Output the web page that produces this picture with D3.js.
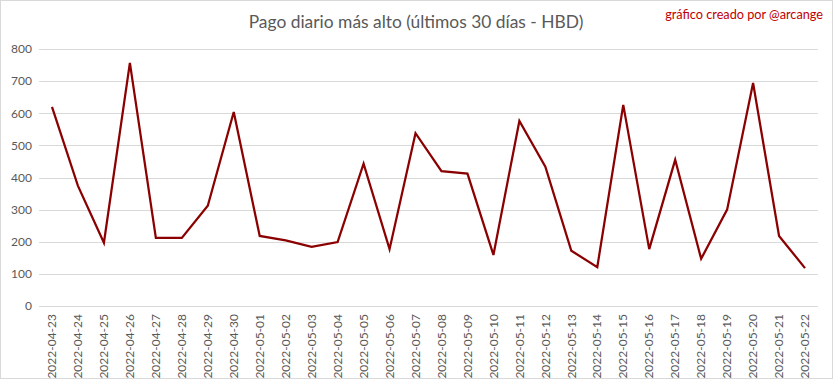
<!DOCTYPE html>
<html><head><meta charset="utf-8">
<script src="https://cdn.jsdelivr.net/npm/d3@7"></script>
<style>html,body{margin:0;padding:0;background:#fff;}</style>
</head><body>
<svg id="c" width="833" height="379"></svg>
<script>
const dates = ["2022-04-23","2022-04-24","2022-04-25","2022-04-26","2022-04-27","2022-04-28","2022-04-29","2022-04-30","2022-05-01","2022-05-02","2022-05-03","2022-05-04","2022-05-05","2022-05-06","2022-05-07","2022-05-08","2022-05-09","2022-05-10","2022-05-11","2022-05-12","2022-05-13","2022-05-14","2022-05-15","2022-05-16","2022-05-17","2022-05-18","2022-05-19","2022-05-20","2022-05-21","2022-05-22"];
const values = [620,374,197,757,212,212,312,604,218,204,184,199,443,177,538,420,412,159,576,434,172,121,626,177,455,147,300,694,218,118];
const yTicks = [0,100,200,300,400,500,600,700,800];
const title = "Pago diario más alto (últimos 30 días - HBD)";
const credit = "gráfico creado por @arcange";

const svg = d3.select("#c");
const font = "Lato, 'Open Sans', sans-serif";
svg.append("rect").attr("x",0.5).attr("y",0.5).attr("width",832).attr("height",378)
  .attr("fill","#fff").attr("stroke","#d9d9d9");

const x = d3.scaleBand().domain(dates).range([39,818]);
const y = d3.scaleLinear().domain([0,800]).range([306,49]);

const grid = svg.append("g");
grid.selectAll("line").data(yTicks).join("line")
  .attr("x1",39).attr("x2",818)
  .attr("y1",d=>Math.round(y(d))+0.5).attr("y2",d=>Math.round(y(d))+0.5)
  .attr("stroke","#d9d9d9").attr("stroke-width",1);

const yAxis = svg.append("g").attr("transform","translate(32,0)")
  .call(d3.axisLeft(y).tickValues(yTicks).tickSize(0).tickPadding(0));
yAxis.select(".domain").remove();
yAxis.selectAll("text").attr("font-family",font).attr("font-size",12).attr("fill","#595959");

const xAxis = svg.append("g").attr("transform","translate(0,306)")
  .call(d3.axisBottom(x).tickSize(0));
xAxis.select(".domain").remove();
xAxis.selectAll("text")
  .attr("font-family",font).attr("font-size",12).attr("fill","#595959")
  .attr("transform","rotate(-90)")
  .attr("text-anchor","end")
  .attr("x",-8).attr("y",0).attr("dy","0.35em");

const line = d3.line().x((d,i)=>x(dates[i])+x.bandwidth()/2).y(d=>y(d));
svg.append("path").datum(values).attr("d",line)
  .attr("fill","none").attr("stroke","#8b0000").attr("stroke-width",2.25)
  .attr("stroke-linejoin","miter");

svg.append("text").attr("x",416).attr("y",28).attr("text-anchor","middle")
  .attr("font-family",font).attr("font-size",17.4).attr("fill","#595959").text(title);
svg.append("text").attr("x",823).attr("y",19).attr("text-anchor","end")
  .attr("font-family",font).attr("font-size",12.7).attr("fill","#c00000").text(credit);
</script>
</body></html>
